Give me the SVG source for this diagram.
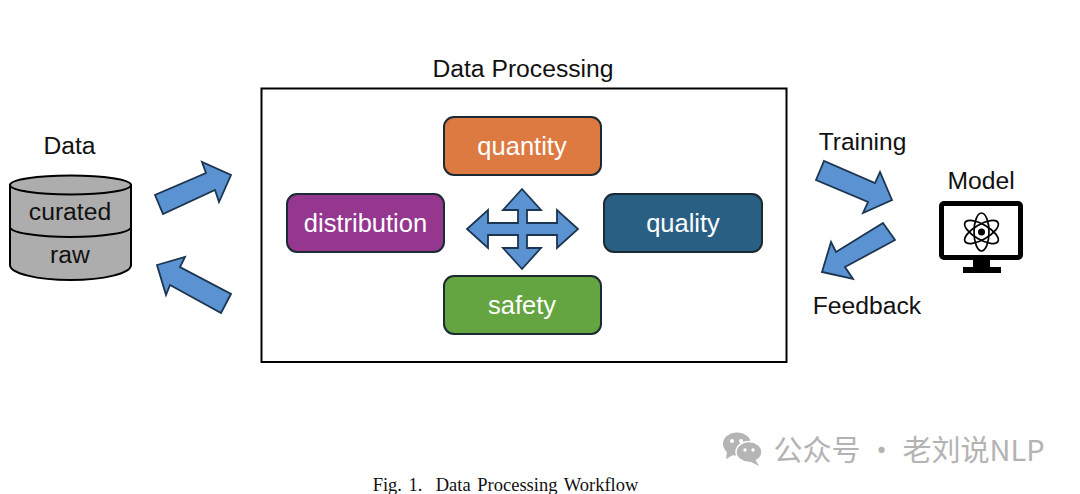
<svg xmlns="http://www.w3.org/2000/svg" width="1080" height="494" viewBox="0 0 1080 494">
<style>
text{font-family:"Liberation Sans",Arial,sans-serif;fill:#111;text-anchor:middle}
.lbl{font-size:24.700px}
.w{fill:#fff;font-size:25.500px}
.box{stroke:#1b2a33;stroke-width:2}
.arr{fill:#5b92d2;stroke:#1c3550;stroke-width:1.800;stroke-linejoin:miter}
.cyl{fill:#adadad;stroke:#000;stroke-width:2}
.ln{fill:none;stroke:#000;stroke-width:2}
.atom{fill:none;stroke:#000;stroke-width:1.700}
</style>
<rect width="1080" height="494" fill="#fff"/>
<g id="data">
<text class="lbl" x="69.500" y="154">Data</text>
<path class="cyl" d="M10 185V265A60.500 15 0 0 0 131 265V185Z"/>
<ellipse class="cyl" cx="70.500" cy="185" rx="60.500" ry="9.500"/>
<path class="ln" d="M10 227A60.500 10 0 0 0 131 227"/>
<text class="lbl" x="70" y="220">curated</text>
<text class="lbl" x="70" y="263">raw</text>
</g>
<g id="processing">
<text class="lbl" x="523" y="77">Data Processing</text>
<rect x="261.500" y="88.500" width="525" height="273.500" fill="#fff" stroke="#000" stroke-width="2"/>
</g>
<g id="quantity"><rect class="box" x="444" y="117" width="157" height="58" rx="10" fill="#dd7a41"/><text class="w" x="522" y="155">quantity</text></g>
<g id="distribution"><rect class="box" x="287" y="194" width="157" height="58" rx="10" fill="#95368f"/><text class="w" x="365.500" y="232">distribution</text></g>
<g id="quality"><rect class="box" x="604" y="194" width="158" height="58" rx="10" fill="#2a5f84"/><text class="w" x="683" y="232">quality</text></g>
<g id="safety"><rect class="box" x="444" y="276" width="157" height="58" rx="10" fill="#64a441"/><text class="w" x="522" y="314">safety</text></g>
<g id="connectors">
<path class="arr" d="M155 195L163 214L215 190L219 202L231 175L202 162L206 173Z"/>
<path class="arr" d="M231 294L221 313L170 285L166 295L157 265L185 257L180 267Z"/>
<path class="arr" d="M816 180L824 161L875 183L880 172L892 200L863 213L868 202Z"/>
<path class="arr" d="M883 223L895 240L845 267L853 279L822 272L831 242L836 252Z"/>
<path class="arr" d="M522 189L503 210H518V223H488V210L467 229L488 248V235H518V248H503L522 269L541 248H527V235H557V248L578 229L557 210V223H527V210H541Z"/>
</g>
<g id="training"><text class="lbl" x="862.500" y="150" style="font-size:24.500px">Training</text></g>
<g id="feedback"><text class="lbl" x="867" y="314">Feedback</text></g>
<g id="model">
<text class="lbl" x="981" y="189">Model</text>
<rect x="941.500" y="203.500" width="79" height="54" rx="2.500" fill="#fff" stroke="#000" stroke-width="5"/>
<rect x="973" y="259" width="17" height="9"/>
<rect x="963" y="267" width="38" height="6"/>
<g transform="translate(981.500 232)">
<ellipse class="atom" rx="7.500" ry="19"/>
<ellipse class="atom" rx="7.500" ry="19" transform="rotate(60)"/>
<ellipse class="atom" rx="7.500" ry="19" transform="rotate(-60)"/>
<circle r="3.500"/>
</g>
</g>
<g id="watermark">
<ellipse cx="737" cy="444" rx="14" ry="11.500" fill="#b5b5b5"/>
<path d="M727 451L726 459L735 454Z" fill="#b5b5b5"/>
<ellipse cx="749" cy="452" rx="13" ry="10.500" fill="#b5b5b5" stroke="#fff" stroke-width="1.500"/>
<path d="M755 459L759 466L749 461Z" fill="#b5b5b5"/>
<circle cx="732" cy="441" r="2" fill="#fff"/><circle cx="741" cy="441" r="2" fill="#fff"/>
<circle cx="745" cy="450" r="1.700" fill="#fff"/><circle cx="753" cy="450" r="1.700" fill="#fff"/>
<text x="909" y="461" style="font-family:'Noto Sans CJK SC','Noto Sans',sans-serif;font-size:29px;fill:#b3b3b3">公众号 · 老刘说NLP</text>
</g>
<g id="caption"><text x="505.500" y="491" xml:space="preserve" style="font-family:'Liberation Serif',serif;font-size:18.500px;word-spacing:2px">Fig. 1.  Data Processing Workflow</text></g>
</svg>
